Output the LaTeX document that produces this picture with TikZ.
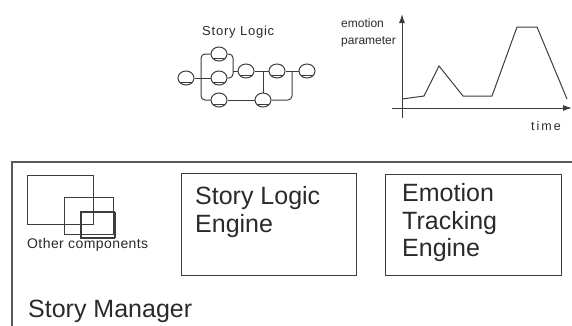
\documentclass[tikz,border=0pt]{standalone}
\usepackage{fontspec}
\setmainfont{Liberation Sans}
\newfontfamily\spacedfont[LetterSpace=6]{Liberation Sans}
\usetikzlibrary{arrows.meta,shapes.geometric,calc}
\definecolor{ink}{HTML}{2A2A2A}
\definecolor{rule}{HTML}{3C3C3C}
\tikzset{
  disk/.style={ellipse, draw=rule, line width=1pt, minimum width=16pt, minimum height=14pt, inner sep=0pt,
    path picture={\draw[rule, line width=0.9pt]
      ($(path picture bounding box.south west)+(0pt,2.8pt)$) -- ($(path picture bounding box.south east)+(0pt,2.8pt)$);}},
  wire/.style={draw=rule, line width=1pt, rounded corners=4pt},
  enginebox/.style={draw=rule, line width=1.2pt},
  bigtext/.style={inner sep=0pt, text=ink, font=\fontsize{25}{27.5}\selectfont, align=left},
  smalltext/.style={inner sep=0pt, text=ink},
  axis/.style={draw=rule, line width=1pt, -{Latex[length=9pt,width=6pt]}},
  curve/.style={draw=rule, line width=1pt, line join=miter},
  component/.style={draw=rule, line width=1pt},
}
\begin{document}
\begin{tikzpicture}[x=1pt, y=-1pt]
\useasboundingbox (0,0) rectangle (572,325);

% ---- story logic graph ----
\node[smalltext, anchor=base west, font=\spacedfont\fontsize{13}{15}\selectfont] (sltitle) at (202,35) {Story Logic};
\node[disk] (A) at (186,78) {};
\node[disk] (B) at (219,54) {};
\node[disk] (C) at (219,78) {};
\node[disk] (D) at (219,100) {};
\node[disk] (E) at (246,71) {};
\node[disk] (F) at (277,71) {};
\node[disk] (G) at (307,71) {};
\node[disk] (H) at (263,100) {};
\coordinate (jL) at (201,78);
\coordinate (jR) at (233,71);
\coordinate (jM) at (263,71);
\coordinate (jG) at (292,71);
\draw[wire] (A) -- (C);
\draw[wire] (B) -- (B -| jL) -- (D -| jL) -- (D);
\draw[wire] (B) -- (B -| jR) -- (C -| jR) -- (C);
\draw[wire] (jR) -- (E);
\draw[wire] (E) -- (F);
\draw[wire] (F) -- (G);
\draw[wire] (jM) -- (H);
\draw[wire] (jG) -- (jG |- H) -- (H);
\draw[wire] (D) -- (H);

% ---- emotion parameter chart ----
\node[smalltext, anchor=north west, align=left, font=\fontsize{12}{17}\selectfont] (ylabel) at (341,18.5) {emotion\\parameter};
\node[smalltext, anchor=base west, font=\addfontfeature{LetterSpace=16}\fontsize{12.5}{14}\selectfont] (xlabel) at (531,130) {time};
\coordinate (ybot) at (402,118);
\coordinate (ytop) at (402,14);
\coordinate (xl) at (392,108);
\coordinate (xr) at (572,108);
\draw[axis] (ybot) -- (ytop);
\draw[axis] (xl) -- (xr);
\draw[curve] (402,99) -- (424,96) -- (439,66) -- (463,96) -- (492,96) -- (517,27) -- (537,27) -- (567,99);

% ---- story manager ----
\draw[draw=rule!85, line width=1.8pt] (572,162) -- (12,162) -- (12,326);
\draw[component] (27,175) rectangle (93,224);
\draw[component] (64,197) rectangle (113,234);
\draw[component] (80,211) rectangle (114,238);
\draw[component] (81,212) rectangle (115,237);
\node[smalltext, anchor=base west, font=\addfontfeature{LetterSpace=3}\fontsize{14}{16}\selectfont] (others) at (27,248) {Other components};

\node[enginebox, minimum width=175pt, minimum height=102pt, anchor=north west] (sle) at (181,173) {};
\node[bigtext, anchor=north west] (sletext) at (195,186.5) {Story Logic\\Engine};
\node[enginebox, minimum width=176pt, minimum height=101pt, anchor=north west] (ete) at (385,174) {};
\node[bigtext, anchor=north west] (etetext) at (402,183.5) {Emotion\\Tracking\\Engine};

\node[bigtext, anchor=base west] (manager) at (28,317) {Story Manager};
\end{tikzpicture}
\end{document}
